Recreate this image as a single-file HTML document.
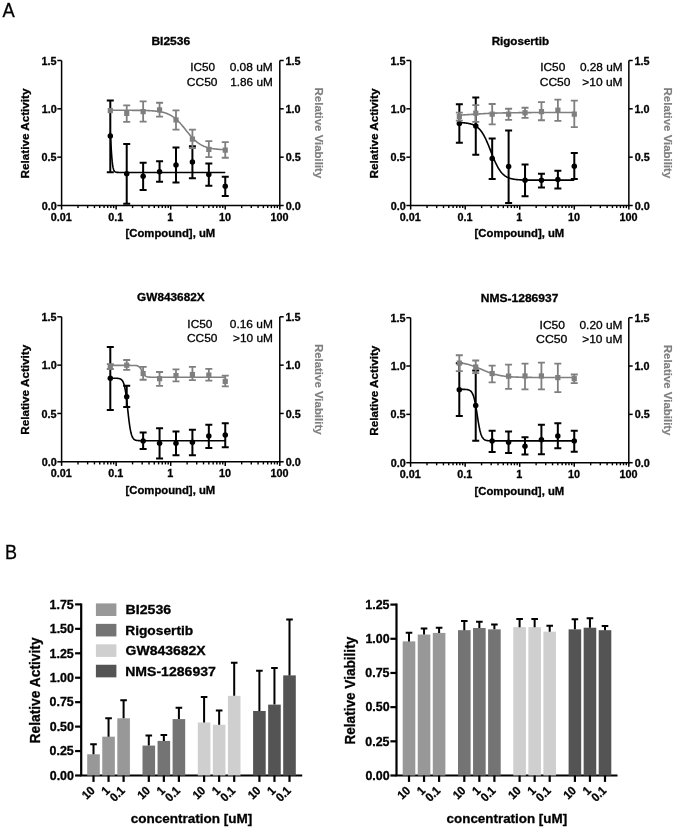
<!DOCTYPE html>
<html><head><meta charset="utf-8"><style>
html,body{margin:0;padding:0;background:#fff;}
body{width:675px;height:829px;overflow:hidden;font-family:"Liberation Sans", sans-serif;}
svg{display:block;filter:blur(0.35px);}
</style></head><body>
<svg width="675" height="829" viewBox="0 0 675 829" font-family='"Liberation Sans", sans-serif' fill="#000"><style>text{stroke:#000;stroke-width:0.3px;}</style><text transform="translate(151.44,44.71) scale(1.1053,1)" font-size="10.845" font-weight="bold">BI2536</text><text transform="translate(190.16,71.34) scale(1.0674,1)" font-size="11.025">IC50</text><text transform="translate(186.85,85.94) scale(1.0609,1)" font-size="11.307">CC50</text><text transform="translate(229.67,71.34) scale(1.0838,1)" font-size="11.025">0.08 uM</text><text transform="translate(230.27,85.94) scale(1.0418,1)" font-size="11.307">1.86 uM</text><text transform="translate(29.27,178.44) rotate(-90) scale(1.0208,1)" font-size="11.475" font-weight="bold">Relative Activity</text><text transform="translate(315,87.58) rotate(90) scale(0.9710,1)" font-size="11.796" font-weight="bold" fill="#7f7f7f" style="stroke:#7f7f7f;stroke-width:0.15px">Relative Viability</text><text transform="translate(125.53,237.35) scale(1.0648,1)" font-size="10.617" font-weight="bold">[Compound], uM</text><text transform="translate(41.65,209.56) scale(1.0300,1)" font-size="10.500" font-weight="bold">0.0</text><text transform="translate(285.82,209.56) scale(1.0300,1)" font-size="10.500" font-weight="bold">0.0</text><text transform="translate(41.51,161.22) scale(1.0300,1)" font-size="10.500" font-weight="bold">0.5</text><text transform="translate(285.82,161.22) scale(1.0300,1)" font-size="10.500" font-weight="bold">0.5</text><text transform="translate(41.65,112.89) scale(1.0300,1)" font-size="10.500" font-weight="bold">1.0</text><text transform="translate(285.57,112.89) scale(1.0300,1)" font-size="10.500" font-weight="bold">1.0</text><text transform="translate(41.51,64.5) scale(1.0300,1)" font-size="10.500" font-weight="bold">1.5</text><text transform="translate(285.57,64.5) scale(1.0300,1)" font-size="10.500" font-weight="bold">1.5</text><text transform="translate(50.81,220.86) scale(1.0300,1)" font-size="10.500" font-weight="bold">0.01</text><text transform="translate(108.37,220.86) scale(1.0300,1)" font-size="10.500" font-weight="bold">0.1</text><text transform="translate(167.31,220.86) scale(1.0300,1)" font-size="10.500" font-weight="bold">1</text><text transform="translate(218.93,220.86) scale(1.0300,1)" font-size="10.500" font-weight="bold">10</text><text transform="translate(270.46,220.86) scale(1.0300,1)" font-size="10.500" font-weight="bold">100</text><g transform="translate(0,0)"><g stroke="#000" stroke-width="1.5" fill="none"><path d="M61.6 60.5V205.5H279.8V60.5"/><path d="M57.3 205.5H61.6"/><path d="M279.8 205.5H283.7"/><path d="M57.3 157.16H61.6"/><path d="M279.8 157.16H283.7"/><path d="M57.3 108.83H61.6"/><path d="M279.8 108.83H283.7"/><path d="M57.3 60.5H61.6"/><path d="M279.8 60.5H283.7"/><path d="M61.6 205.5V209.6"/><path d="M78.02 205.5V208.1" stroke-width="1.4"/><path d="M87.63 205.5V208.1" stroke-width="1.4"/><path d="M94.44 205.5V208.1" stroke-width="1.4"/><path d="M99.73 205.5V208.1" stroke-width="1.4"/><path d="M104.05 205.5V208.1" stroke-width="1.4"/><path d="M107.7 205.5V208.1" stroke-width="1.4"/><path d="M110.86 205.5V208.1" stroke-width="1.4"/><path d="M113.65 205.5V208.1" stroke-width="1.4"/><path d="M116.15 205.5V209.6"/><path d="M132.57 205.5V208.1" stroke-width="1.4"/><path d="M142.18 205.5V208.1" stroke-width="1.4"/><path d="M148.99 205.5V208.1" stroke-width="1.4"/><path d="M154.28 205.5V208.1" stroke-width="1.4"/><path d="M158.6 205.5V208.1" stroke-width="1.4"/><path d="M162.25 205.5V208.1" stroke-width="1.4"/><path d="M165.41 205.5V208.1" stroke-width="1.4"/><path d="M168.2 205.5V208.1" stroke-width="1.4"/><path d="M170.7 205.5V209.6"/><path d="M187.12 205.5V208.1" stroke-width="1.4"/><path d="M196.73 205.5V208.1" stroke-width="1.4"/><path d="M203.54 205.5V208.1" stroke-width="1.4"/><path d="M208.83 205.5V208.1" stroke-width="1.4"/><path d="M213.15 205.5V208.1" stroke-width="1.4"/><path d="M216.8 205.5V208.1" stroke-width="1.4"/><path d="M219.96 205.5V208.1" stroke-width="1.4"/><path d="M222.75 205.5V208.1" stroke-width="1.4"/><path d="M225.25 205.5V209.6"/><path d="M241.67 205.5V208.1" stroke-width="1.4"/><path d="M251.28 205.5V208.1" stroke-width="1.4"/><path d="M258.09 205.5V208.1" stroke-width="1.4"/><path d="M263.38 205.5V208.1" stroke-width="1.4"/><path d="M267.7 205.5V208.1" stroke-width="1.4"/><path d="M271.35 205.5V208.1" stroke-width="1.4"/><path d="M274.51 205.5V208.1" stroke-width="1.4"/><path d="M277.3 205.5V208.1" stroke-width="1.4"/><path d="M279.8 205.5V209.6"/></g><path d="M110.3 132.43 L110.68 139.29 L111.07 146.07 L111.45 152.25 L111.83 157.5 L112.22 161.69 L112.6 164.87 L112.98 167.19 L113.37 168.85 L113.75 170 L114.13 170.79 L114.52 171.33 L114.9 171.69 L115.28 171.94 L115.67 172.11 L116.05 172.22 L116.43 172.29 L116.82 172.34 L117.2 172.37 L117.58 172.39 L117.96 172.41 L118.35 172.42 L118.73 172.43 L119.11 172.43 L119.5 172.43 L119.88 172.43 L120.26 172.44 L120.65 172.44 L121.03 172.44 L121.41 172.44 L121.8 172.44 L122.18 172.44 L122.56 172.44 L122.95 172.44 L123.33 172.44 L123.71 172.44 L124.1 172.44 L124.48 172.44 L124.86 172.44 L125.24 172.44 L125.63 172.44 L126.01 172.44 L126.39 172.44 L126.78 172.44 L127.16 172.44 L127.54 172.44 L127.93 172.44 L128.31 172.44 L128.69 172.44 L129.08 172.44 L129.46 172.44 L129.84 172.44 L130.23 172.44 L130.61 172.44 L130.99 172.44 L131.38 172.44 L131.76 172.44 L132.14 172.44 L132.53 172.44 L132.91 172.44 L133.29 172.44 L133.67 172.44 L134.06 172.44 L134.44 172.44 L134.82 172.44 L135.21 172.44 L135.59 172.44 L135.97 172.44 L136.36 172.44 L136.74 172.44 L137.12 172.44 L137.51 172.44 L137.89 172.44 L138.27 172.44 L138.66 172.44 L139.04 172.44 L139.42 172.44 L139.81 172.44 L140.19 172.44 L140.57 172.44 L140.95 172.44 L141.34 172.44 L141.72 172.44 L142.1 172.44 L142.49 172.44 L142.87 172.44 L143.25 172.44 L143.64 172.44 L144.02 172.44 L144.4 172.44 L144.79 172.44 L145.17 172.44 L145.55 172.44 L145.94 172.44 L146.32 172.44 L146.7 172.44 L147.09 172.44 L147.47 172.44 L147.85 172.44 L148.23 172.44 L148.62 172.44 L149 172.44 L149.38 172.44 L149.77 172.44 L150.15 172.44 L150.53 172.44 L150.92 172.44 L151.3 172.44 L151.68 172.44 L152.07 172.44 L152.45 172.44 L152.83 172.44 L153.22 172.44 L153.6 172.44 L153.98 172.44 L154.37 172.44 L154.75 172.44 L155.13 172.44 L155.51 172.44 L155.9 172.44 L156.28 172.44 L156.66 172.44 L157.05 172.44 L157.43 172.44 L157.81 172.44 L158.2 172.44 L158.58 172.44 L158.96 172.44 L159.35 172.44 L159.73 172.44 L160.11 172.44 L160.5 172.44 L160.88 172.44 L161.26 172.44 L161.65 172.44 L162.03 172.44 L162.41 172.44 L162.79 172.44 L163.18 172.44 L163.56 172.44 L163.94 172.44 L164.33 172.44 L164.71 172.44 L165.09 172.44 L165.48 172.44 L165.86 172.44 L166.24 172.44 L166.63 172.44 L167.01 172.44 L167.39 172.44 L167.78 172.44 L168.16 172.44 L168.54 172.44 L168.93 172.44 L169.31 172.44 L169.69 172.44 L170.07 172.44 L170.46 172.44 L170.84 172.44 L171.22 172.44 L171.61 172.44 L171.99 172.44 L172.37 172.44 L172.76 172.44 L173.14 172.44 L173.52 172.44 L173.91 172.44 L174.29 172.44 L174.67 172.44 L175.06 172.44 L175.44 172.44 L175.82 172.44 L176.21 172.44 L176.59 172.44 L176.97 172.44 L177.35 172.44 L177.74 172.44 L178.12 172.44 L178.5 172.44 L178.89 172.44 L179.27 172.44 L179.65 172.44 L180.04 172.44 L180.42 172.44 L180.8 172.44 L181.19 172.44 L181.57 172.44 L181.95 172.44 L182.34 172.44 L182.72 172.44 L183.1 172.44 L183.49 172.44 L183.87 172.44 L184.25 172.44 L184.63 172.44 L185.02 172.44 L185.4 172.44 L185.78 172.44 L186.17 172.44 L186.55 172.44 L186.93 172.44 L187.32 172.44 L187.7 172.44 L188.08 172.44 L188.47 172.44 L188.85 172.44 L189.23 172.44 L189.62 172.44 L190 172.44 L190.38 172.44 L190.77 172.44 L191.15 172.44 L191.53 172.44 L191.91 172.44 L192.3 172.44 L192.68 172.44 L193.06 172.44 L193.45 172.44 L193.83 172.44 L194.21 172.44 L194.6 172.44 L194.98 172.44 L195.36 172.44 L195.75 172.44 L196.13 172.44 L196.51 172.44 L196.9 172.44 L197.28 172.44 L197.66 172.44 L198.05 172.44 L198.43 172.44 L198.81 172.44 L199.2 172.44 L199.58 172.44 L199.96 172.44 L200.34 172.44 L200.73 172.44 L201.11 172.44 L201.49 172.44 L201.88 172.44 L202.26 172.44 L202.64 172.44 L203.03 172.44 L203.41 172.44 L203.79 172.44 L204.18 172.44 L204.56 172.44 L204.94 172.44 L205.33 172.44 L205.71 172.44 L206.09 172.44 L206.48 172.44 L206.86 172.44 L207.24 172.44 L207.62 172.44 L208.01 172.44 L208.39 172.44 L208.77 172.44 L209.16 172.44 L209.54 172.44 L209.92 172.44 L210.31 172.44 L210.69 172.44 L211.07 172.44 L211.46 172.44 L211.84 172.44 L212.22 172.44 L212.61 172.44 L212.99 172.44 L213.37 172.44 L213.76 172.44 L214.14 172.44 L214.52 172.44 L214.9 172.44 L215.29 172.44 L215.67 172.44 L216.05 172.44 L216.44 172.44 L216.82 172.44 L217.2 172.44 L217.59 172.44 L217.97 172.44 L218.35 172.44 L218.74 172.44 L219.12 172.44 L219.5 172.44 L219.89 172.44 L220.27 172.44 L220.65 172.44 L221.04 172.44 L221.42 172.44 L221.8 172.44 L222.18 172.44 L222.57 172.44 L222.95 172.44 L223.33 172.44 L223.72 172.44 L224.1 172.44 L224.48 172.44 L224.87 172.44 L225.25 172.44" fill="none" stroke="#000" stroke-width="1.6"/><path d="M110.3 100.61V172.25M106.8 100.61H113.8M106.8 172.25H113.8" stroke="#000" stroke-width="2.0" fill="none"/><circle cx="110.3" cy="135.9" r="2.75" fill="#000"/><path d="M126.72 143.92V203.86M123.22 143.92H130.22M123.22 203.86H130.22" stroke="#000" stroke-width="2.0" fill="none"/><circle cx="126.72" cy="173.7" r="2.75" fill="#000"/><path d="M143.14 162.68V190.03M139.64 162.68H146.64M139.64 190.03H146.64" stroke="#000" stroke-width="2.0" fill="none"/><circle cx="143.14" cy="176.31" r="2.75" fill="#000"/><path d="M159.57 161.23V181.72M156.07 161.23H163.07M156.07 181.72H163.07" stroke="#000" stroke-width="2.0" fill="none"/><circle cx="159.57" cy="171.67" r="2.75" fill="#000"/><path d="M175.99 147.5V182.49M172.49 147.5H179.49M172.49 182.49H179.49" stroke="#000" stroke-width="2.0" fill="none"/><circle cx="175.99" cy="165.09" r="2.75" fill="#000"/><path d="M192.41 146.24V178.14M188.91 146.24H195.91M188.91 178.14H195.91" stroke="#000" stroke-width="2.0" fill="none"/><circle cx="192.41" cy="162.1" r="2.75" fill="#000"/><path d="M208.83 163.55V185.68M205.33 163.55H212.33M205.33 185.68H212.33" stroke="#000" stroke-width="2.0" fill="none"/><circle cx="208.83" cy="174.47" r="2.75" fill="#000"/><path d="M225.25 176.69V196.12M221.75 176.69H228.75M221.75 196.12H228.75" stroke="#000" stroke-width="2.0" fill="none"/><circle cx="225.25" cy="186.17" r="2.75" fill="#000"/><path d="M110.3 110.28 L111.07 110.28 L111.83 110.28 L112.6 110.28 L113.37 110.28 L114.13 110.28 L114.9 110.28 L115.67 110.29 L116.43 110.29 L117.2 110.29 L117.96 110.29 L118.73 110.29 L119.5 110.29 L120.26 110.29 L121.03 110.29 L121.8 110.29 L122.56 110.29 L123.33 110.29 L124.1 110.3 L124.86 110.3 L125.63 110.3 L126.39 110.3 L127.16 110.3 L127.93 110.31 L128.69 110.31 L129.46 110.31 L130.23 110.31 L130.99 110.32 L131.76 110.32 L132.53 110.33 L133.29 110.33 L134.06 110.34 L134.82 110.34 L135.59 110.35 L136.36 110.35 L137.12 110.36 L137.89 110.37 L138.66 110.38 L139.42 110.39 L140.19 110.4 L140.95 110.41 L141.72 110.43 L142.49 110.44 L143.25 110.46 L144.02 110.48 L144.79 110.5 L145.55 110.52 L146.32 110.54 L147.09 110.57 L147.85 110.6 L148.62 110.63 L149.38 110.66 L150.15 110.7 L150.92 110.75 L151.68 110.79 L152.45 110.84 L153.22 110.9 L153.98 110.96 L154.75 111.03 L155.51 111.11 L156.28 111.19 L157.05 111.28 L157.81 111.38 L158.58 111.49 L159.35 111.61 L160.11 111.74 L160.88 111.88 L161.65 112.03 L162.41 112.2 L163.18 112.39 L163.94 112.59 L164.71 112.81 L165.48 113.05 L166.24 113.31 L167.01 113.6 L167.78 113.91 L168.54 114.24 L169.31 114.6 L170.07 114.98 L170.84 115.4 L171.61 115.85 L172.37 116.33 L173.14 116.85 L173.91 117.4 L174.67 117.98 L175.44 118.6 L176.21 119.26 L176.97 119.95 L177.74 120.67 L178.5 121.44 L179.27 122.23 L180.04 123.05 L180.8 123.91 L181.57 124.79 L182.34 125.69 L183.1 126.62 L183.87 127.56 L184.63 128.51 L185.4 129.46 L186.17 130.43 L186.93 131.39 L187.7 132.34 L188.47 133.28 L189.23 134.21 L190 135.12 L190.77 136.01 L191.53 136.87 L192.3 137.71 L193.06 138.51 L193.83 139.28 L194.6 140.02 L195.36 140.72 L196.13 141.39 L196.9 142.02 L197.66 142.62 L198.43 143.18 L199.2 143.7 L199.96 144.19 L200.73 144.65 L201.49 145.08 L202.26 145.48 L203.03 145.85 L203.79 146.19 L204.56 146.5 L205.33 146.79 L206.09 147.06 L206.86 147.31 L207.62 147.53 L208.39 147.74 L209.16 147.93 L209.92 148.11 L210.69 148.27 L211.46 148.41 L212.22 148.55 L212.99 148.67 L213.76 148.78 L214.52 148.88 L215.29 148.98 L216.05 149.06 L216.82 149.14 L217.59 149.21 L218.35 149.27 L219.12 149.33 L219.89 149.39 L220.65 149.43 L221.42 149.48 L222.18 149.52 L222.95 149.55 L223.72 149.59 L224.48 149.62 L225.25 149.64" fill="none" stroke="#7f7f7f" stroke-width="1.6"/><rect x="107.7" y="107.97" width="5.2" height="5.2" fill="#7f7f7f"/><path d="M126.72 105.45V121.88M123.22 105.45H130.22M123.22 121.88H130.22" stroke="#7f7f7f" stroke-width="1.8" fill="none"/><rect x="124.12" y="110.77" width="5.2" height="5.2" fill="#7f7f7f"/><path d="M143.14 101.39V121.59M139.64 101.39H146.64M139.64 121.59H146.64" stroke="#7f7f7f" stroke-width="1.8" fill="none"/><rect x="140.54" y="109.03" width="5.2" height="5.2" fill="#7f7f7f"/><path d="M159.57 102.74V116.56M156.07 102.74H163.07M156.07 116.56H163.07" stroke="#7f7f7f" stroke-width="1.8" fill="none"/><rect x="156.97" y="107.29" width="5.2" height="5.2" fill="#7f7f7f"/><path d="M175.99 110.38V129.61M172.49 110.38H179.49M172.49 129.61H179.49" stroke="#7f7f7f" stroke-width="1.8" fill="none"/><rect x="173.39" y="117.35" width="5.2" height="5.2" fill="#7f7f7f"/><path d="M192.41 129.71V147.98M188.91 129.71H195.91M188.91 147.98H195.91" stroke="#7f7f7f" stroke-width="1.8" fill="none"/><rect x="189.81" y="136.49" width="5.2" height="5.2" fill="#7f7f7f"/><path d="M208.83 141.21V157.16M205.33 141.21H212.33M205.33 157.16H212.33" stroke="#7f7f7f" stroke-width="1.8" fill="none"/><rect x="206.23" y="146.83" width="5.2" height="5.2" fill="#7f7f7f"/><path d="M225.25 142.08V157.75M221.75 142.08H228.75M221.75 157.75H228.75" stroke="#7f7f7f" stroke-width="1.8" fill="none"/><rect x="222.65" y="147.51" width="5.2" height="5.2" fill="#7f7f7f"/></g><text transform="translate(491.67,45.06) scale(1.0784,1)" font-size="10.773" font-weight="bold">Rigosertib</text><text transform="translate(540.25,71.34) scale(1.0766,1)" font-size="11.025">IC50</text><text transform="translate(539.75,85.94) scale(1.0645,1)" font-size="11.307">CC50</text><text transform="translate(579.88,71.34) scale(1.0734,1)" font-size="11.025">0.28 uM</text><text transform="translate(582.25,85.94) scale(1.0623,1)" font-size="11.307">&gt;10 uM</text><text transform="translate(378.32,178.44) rotate(-90) scale(1.0208,1)" font-size="11.475" font-weight="bold">Relative Activity</text><text transform="translate(664.05,87.58) rotate(90) scale(0.9710,1)" font-size="11.796" font-weight="bold" fill="#7f7f7f" style="stroke:#7f7f7f;stroke-width:0.15px">Relative Viability</text><text transform="translate(474.58,237.35) scale(1.0648,1)" font-size="10.617" font-weight="bold">[Compound], uM</text><text transform="translate(390.7,209.56) scale(1.0300,1)" font-size="10.500" font-weight="bold">0.0</text><text transform="translate(634.87,209.56) scale(1.0300,1)" font-size="10.500" font-weight="bold">0.0</text><text transform="translate(390.56,161.22) scale(1.0300,1)" font-size="10.500" font-weight="bold">0.5</text><text transform="translate(634.87,161.22) scale(1.0300,1)" font-size="10.500" font-weight="bold">0.5</text><text transform="translate(390.7,112.89) scale(1.0300,1)" font-size="10.500" font-weight="bold">1.0</text><text transform="translate(634.62,112.89) scale(1.0300,1)" font-size="10.500" font-weight="bold">1.0</text><text transform="translate(390.56,64.5) scale(1.0300,1)" font-size="10.500" font-weight="bold">1.5</text><text transform="translate(634.62,64.5) scale(1.0300,1)" font-size="10.500" font-weight="bold">1.5</text><text transform="translate(399.86,220.86) scale(1.0300,1)" font-size="10.500" font-weight="bold">0.01</text><text transform="translate(457.42,220.86) scale(1.0300,1)" font-size="10.500" font-weight="bold">0.1</text><text transform="translate(516.36,220.86) scale(1.0300,1)" font-size="10.500" font-weight="bold">1</text><text transform="translate(567.98,220.86) scale(1.0300,1)" font-size="10.500" font-weight="bold">10</text><text transform="translate(619.51,220.86) scale(1.0300,1)" font-size="10.500" font-weight="bold">100</text><g transform="translate(349.05,0)"><g stroke="#000" stroke-width="1.5" fill="none"><path d="M61.6 60.5V205.5H279.8V60.5"/><path d="M57.3 205.5H61.6"/><path d="M279.8 205.5H283.7"/><path d="M57.3 157.16H61.6"/><path d="M279.8 157.16H283.7"/><path d="M57.3 108.83H61.6"/><path d="M279.8 108.83H283.7"/><path d="M57.3 60.5H61.6"/><path d="M279.8 60.5H283.7"/><path d="M61.6 205.5V209.6"/><path d="M78.02 205.5V208.1" stroke-width="1.4"/><path d="M87.63 205.5V208.1" stroke-width="1.4"/><path d="M94.44 205.5V208.1" stroke-width="1.4"/><path d="M99.73 205.5V208.1" stroke-width="1.4"/><path d="M104.05 205.5V208.1" stroke-width="1.4"/><path d="M107.7 205.5V208.1" stroke-width="1.4"/><path d="M110.86 205.5V208.1" stroke-width="1.4"/><path d="M113.65 205.5V208.1" stroke-width="1.4"/><path d="M116.15 205.5V209.6"/><path d="M132.57 205.5V208.1" stroke-width="1.4"/><path d="M142.18 205.5V208.1" stroke-width="1.4"/><path d="M148.99 205.5V208.1" stroke-width="1.4"/><path d="M154.28 205.5V208.1" stroke-width="1.4"/><path d="M158.6 205.5V208.1" stroke-width="1.4"/><path d="M162.25 205.5V208.1" stroke-width="1.4"/><path d="M165.41 205.5V208.1" stroke-width="1.4"/><path d="M168.2 205.5V208.1" stroke-width="1.4"/><path d="M170.7 205.5V209.6"/><path d="M187.12 205.5V208.1" stroke-width="1.4"/><path d="M196.73 205.5V208.1" stroke-width="1.4"/><path d="M203.54 205.5V208.1" stroke-width="1.4"/><path d="M208.83 205.5V208.1" stroke-width="1.4"/><path d="M213.15 205.5V208.1" stroke-width="1.4"/><path d="M216.8 205.5V208.1" stroke-width="1.4"/><path d="M219.96 205.5V208.1" stroke-width="1.4"/><path d="M222.75 205.5V208.1" stroke-width="1.4"/><path d="M225.25 205.5V209.6"/><path d="M241.67 205.5V208.1" stroke-width="1.4"/><path d="M251.28 205.5V208.1" stroke-width="1.4"/><path d="M258.09 205.5V208.1" stroke-width="1.4"/><path d="M263.38 205.5V208.1" stroke-width="1.4"/><path d="M267.7 205.5V208.1" stroke-width="1.4"/><path d="M271.35 205.5V208.1" stroke-width="1.4"/><path d="M274.51 205.5V208.1" stroke-width="1.4"/><path d="M277.3 205.5V208.1" stroke-width="1.4"/><path d="M279.8 205.5V209.6"/></g><path d="M110.3 122.58 L110.68 122.6 L111.07 122.61 L111.45 122.63 L111.83 122.65 L112.22 122.67 L112.6 122.69 L112.98 122.71 L113.37 122.74 L113.75 122.76 L114.13 122.79 L114.52 122.82 L114.9 122.85 L115.28 122.89 L115.67 122.92 L116.05 122.96 L116.43 123 L116.82 123.05 L117.2 123.09 L117.58 123.15 L117.96 123.2 L118.35 123.26 L118.73 123.32 L119.11 123.39 L119.5 123.46 L119.88 123.53 L120.26 123.61 L120.65 123.7 L121.03 123.79 L121.41 123.89 L121.8 123.99 L122.18 124.1 L122.56 124.22 L122.95 124.34 L123.33 124.48 L123.71 124.62 L124.1 124.77 L124.48 124.94 L124.86 125.11 L125.24 125.29 L125.63 125.49 L126.01 125.69 L126.39 125.91 L126.78 126.14 L127.16 126.39 L127.54 126.65 L127.93 126.93 L128.31 127.23 L128.69 127.54 L129.08 127.87 L129.46 128.21 L129.84 128.58 L130.23 128.97 L130.61 129.38 L130.99 129.81 L131.38 130.26 L131.76 130.73 L132.14 131.23 L132.53 131.75 L132.91 132.3 L133.29 132.87 L133.67 133.47 L134.06 134.09 L134.44 134.74 L134.82 135.41 L135.21 136.11 L135.59 136.83 L135.97 137.58 L136.36 138.36 L136.74 139.15 L137.12 139.97 L137.51 140.82 L137.89 141.68 L138.27 142.56 L138.66 143.46 L139.04 144.38 L139.42 145.32 L139.81 146.26 L140.19 147.22 L140.57 148.19 L140.95 149.16 L141.34 150.14 L141.72 151.12 L142.1 152.1 L142.49 153.08 L142.87 154.06 L143.25 155.03 L143.64 155.99 L144.02 156.94 L144.4 157.87 L144.79 158.8 L145.17 159.7 L145.55 160.59 L145.94 161.46 L146.32 162.31 L146.7 163.14 L147.09 163.94 L147.47 164.72 L147.85 165.48 L148.23 166.21 L148.62 166.92 L149 167.6 L149.38 168.26 L149.77 168.89 L150.15 169.49 L150.53 170.07 L150.92 170.62 L151.3 171.15 L151.68 171.66 L152.07 172.14 L152.45 172.6 L152.83 173.03 L153.22 173.45 L153.6 173.84 L153.98 174.21 L154.37 174.57 L154.75 174.9 L155.13 175.22 L155.51 175.52 L155.9 175.8 L156.28 176.07 L156.66 176.32 L157.05 176.56 L157.43 176.78 L157.81 176.99 L158.2 177.19 L158.58 177.37 L158.96 177.55 L159.35 177.71 L159.73 177.87 L160.11 178.02 L160.5 178.15 L160.88 178.28 L161.26 178.4 L161.65 178.51 L162.03 178.62 L162.41 178.72 L162.79 178.81 L163.18 178.9 L163.56 178.98 L163.94 179.06 L164.33 179.13 L164.71 179.2 L165.09 179.26 L165.48 179.32 L165.86 179.37 L166.24 179.43 L166.63 179.47 L167.01 179.52 L167.39 179.56 L167.78 179.6 L168.16 179.64 L168.54 179.67 L168.93 179.71 L169.31 179.74 L169.69 179.77 L170.07 179.79 L170.46 179.82 L170.84 179.84 L171.22 179.86 L171.61 179.88 L171.99 179.9 L172.37 179.92 L172.76 179.94 L173.14 179.95 L173.52 179.97 L173.91 179.98 L174.29 179.99 L174.67 180 L175.06 180.01 L175.44 180.02 L175.82 180.03 L176.21 180.04 L176.59 180.05 L176.97 180.06 L177.35 180.07 L177.74 180.07 L178.12 180.08 L178.5 180.09 L178.89 180.09 L179.27 180.1 L179.65 180.1 L180.04 180.11 L180.42 180.11 L180.8 180.12 L181.19 180.12 L181.57 180.12 L181.95 180.13 L182.34 180.13 L182.72 180.13 L183.1 180.13 L183.49 180.14 L183.87 180.14 L184.25 180.14 L184.63 180.14 L185.02 180.15 L185.4 180.15 L185.78 180.15 L186.17 180.15 L186.55 180.15 L186.93 180.15 L187.32 180.15 L187.7 180.16 L188.08 180.16 L188.47 180.16 L188.85 180.16 L189.23 180.16 L189.62 180.16 L190 180.16 L190.38 180.16 L190.77 180.16 L191.15 180.16 L191.53 180.16 L191.91 180.16 L192.3 180.17 L192.68 180.17 L193.06 180.17 L193.45 180.17 L193.83 180.17 L194.21 180.17 L194.6 180.17 L194.98 180.17 L195.36 180.17 L195.75 180.17 L196.13 180.17 L196.51 180.17 L196.9 180.17 L197.28 180.17 L197.66 180.17 L198.05 180.17 L198.43 180.17 L198.81 180.17 L199.2 180.17 L199.58 180.17 L199.96 180.17 L200.34 180.17 L200.73 180.17 L201.11 180.17 L201.49 180.17 L201.88 180.17 L202.26 180.17 L202.64 180.17 L203.03 180.17 L203.41 180.17 L203.79 180.17 L204.18 180.17 L204.56 180.17 L204.94 180.17 L205.33 180.17 L205.71 180.17 L206.09 180.17 L206.48 180.17 L206.86 180.17 L207.24 180.17 L207.62 180.17 L208.01 180.17 L208.39 180.17 L208.77 180.17 L209.16 180.17 L209.54 180.17 L209.92 180.17 L210.31 180.17 L210.69 180.17 L211.07 180.17 L211.46 180.17 L211.84 180.17 L212.22 180.17 L212.61 180.17 L212.99 180.17 L213.37 180.17 L213.76 180.17 L214.14 180.17 L214.52 180.17 L214.9 180.17 L215.29 180.17 L215.67 180.17 L216.05 180.17 L216.44 180.17 L216.82 180.17 L217.2 180.17 L217.59 180.17 L217.97 180.17 L218.35 180.17 L218.74 180.17 L219.12 180.17 L219.5 180.17 L219.89 180.17 L220.27 180.17 L220.65 180.17 L221.04 180.17 L221.42 180.17 L221.8 180.17 L222.18 180.17 L222.57 180.17 L222.95 180.17 L223.33 180.17 L223.72 180.17 L224.1 180.17 L224.48 180.17 L224.87 180.17 L225.25 180.17" fill="none" stroke="#000" stroke-width="1.6"/><path d="M110.3 104.29V142.76M106.8 104.29H113.8M106.8 142.76H113.8" stroke="#000" stroke-width="2.0" fill="none"/><circle cx="110.3" cy="123.62" r="2.75" fill="#000"/><path d="M126.72 97.62V154.84M123.22 97.62H130.22M123.22 154.84H130.22" stroke="#000" stroke-width="2.0" fill="none"/><circle cx="126.72" cy="126.04" r="2.75" fill="#000"/><path d="M143.14 138.41V179.01M139.64 138.41H146.64M139.64 179.01H146.64" stroke="#000" stroke-width="2.0" fill="none"/><circle cx="143.14" cy="158.62" r="2.75" fill="#000"/><path d="M159.57 130.39V202.99M156.07 130.39H163.07M156.07 202.99H163.07" stroke="#000" stroke-width="2.0" fill="none"/><circle cx="159.57" cy="166.54" r="2.75" fill="#000"/><path d="M175.99 164.51V196.22M172.49 164.51H179.49M172.49 196.22H179.49" stroke="#000" stroke-width="2.0" fill="none"/><circle cx="175.99" cy="180.27" r="2.75" fill="#000"/><path d="M192.41 173.79V187.52M188.91 173.79H195.91M188.91 187.52H195.91" stroke="#000" stroke-width="2.0" fill="none"/><circle cx="192.41" cy="180.27" r="2.75" fill="#000"/><path d="M208.83 170.7V188.58M205.33 170.7H212.33M205.33 188.58H212.33" stroke="#000" stroke-width="2.0" fill="none"/><circle cx="208.83" cy="179.4" r="2.75" fill="#000"/><path d="M225.25 153.1V179.01M221.75 153.1H228.75M221.75 179.01H228.75" stroke="#000" stroke-width="2.0" fill="none"/><circle cx="225.25" cy="166.35" r="2.75" fill="#000"/><path d="M110.3 115.22 L111.07 115.18 L111.83 115.12 L112.6 115.07 L113.37 115.02 L114.13 114.97 L114.9 114.92 L115.67 114.87 L116.43 114.81 L117.2 114.76 L117.96 114.71 L118.73 114.66 L119.5 114.6 L120.26 114.55 L121.03 114.5 L121.8 114.45 L122.56 114.39 L123.33 114.34 L124.1 114.29 L124.86 114.24 L125.63 114.19 L126.39 114.14 L127.16 114.09 L127.93 114.04 L128.69 113.99 L129.46 113.95 L130.23 113.9 L130.99 113.86 L131.76 113.81 L132.53 113.77 L133.29 113.72 L134.06 113.68 L134.82 113.64 L135.59 113.6 L136.36 113.56 L137.12 113.52 L137.89 113.48 L138.66 113.45 L139.42 113.41 L140.19 113.38 L140.95 113.35 L141.72 113.31 L142.49 113.28 L143.25 113.25 L144.02 113.22 L144.79 113.19 L145.55 113.16 L146.32 113.14 L147.09 113.11 L147.85 113.09 L148.62 113.06 L149.38 113.04 L150.15 113.02 L150.92 113 L151.68 112.98 L152.45 112.96 L153.22 112.94 L153.98 112.92 L154.75 112.9 L155.51 112.88 L156.28 112.87 L157.05 112.85 L157.81 112.83 L158.58 112.82 L159.35 112.81 L160.11 112.79 L160.88 112.78 L161.65 112.77 L162.41 112.76 L163.18 112.74 L163.94 112.73 L164.71 112.72 L165.48 112.71 L166.24 112.7 L167.01 112.7 L167.78 112.69 L168.54 112.68 L169.31 112.67 L170.07 112.66 L170.84 112.66 L171.61 112.65 L172.37 112.64 L173.14 112.64 L173.91 112.63 L174.67 112.62 L175.44 112.62 L176.21 112.61 L176.97 112.61 L177.74 112.6 L178.5 112.6 L179.27 112.59 L180.04 112.59 L180.8 112.59 L181.57 112.58 L182.34 112.58 L183.1 112.57 L183.87 112.57 L184.63 112.57 L185.4 112.57 L186.17 112.56 L186.93 112.56 L187.7 112.56 L188.47 112.55 L189.23 112.55 L190 112.55 L190.77 112.55 L191.53 112.55 L192.3 112.54 L193.06 112.54 L193.83 112.54 L194.6 112.54 L195.36 112.54 L196.13 112.53 L196.9 112.53 L197.66 112.53 L198.43 112.53 L199.2 112.53 L199.96 112.53 L200.73 112.53 L201.49 112.53 L202.26 112.52 L203.03 112.52 L203.79 112.52 L204.56 112.52 L205.33 112.52 L206.09 112.52 L206.86 112.52 L207.62 112.52 L208.39 112.52 L209.16 112.52 L209.92 112.52 L210.69 112.52 L211.46 112.52 L212.22 112.51 L212.99 112.51 L213.76 112.51 L214.52 112.51 L215.29 112.51 L216.05 112.51 L216.82 112.51 L217.59 112.51 L218.35 112.51 L219.12 112.51 L219.89 112.51 L220.65 112.51 L221.42 112.51 L222.18 112.51 L222.95 112.51 L223.72 112.51 L224.48 112.51 L225.25 112.51" fill="none" stroke="#7f7f7f" stroke-width="1.6"/><path d="M110.3 112.6V120.62M106.8 112.6H113.8M106.8 120.62H113.8" stroke="#7f7f7f" stroke-width="1.8" fill="none"/><rect x="107.7" y="113.96" width="5.2" height="5.2" fill="#7f7f7f"/><path d="M126.72 105.06V121.88M123.22 105.06H130.22M123.22 121.88H130.22" stroke="#7f7f7f" stroke-width="1.8" fill="none"/><rect x="124.12" y="110.58" width="5.2" height="5.2" fill="#7f7f7f"/><path d="M143.14 104V124.3M139.64 104H146.64M139.64 124.3H146.64" stroke="#7f7f7f" stroke-width="1.8" fill="none"/><rect x="140.54" y="111.55" width="5.2" height="5.2" fill="#7f7f7f"/><path d="M159.57 108.73V119.85M156.07 108.73H163.07M156.07 119.85H163.07" stroke="#7f7f7f" stroke-width="1.8" fill="none"/><rect x="156.97" y="111.55" width="5.2" height="5.2" fill="#7f7f7f"/><path d="M175.99 107.77V117.92M172.49 107.77H179.49M172.49 117.92H179.49" stroke="#7f7f7f" stroke-width="1.8" fill="none"/><rect x="173.39" y="110.1" width="5.2" height="5.2" fill="#7f7f7f"/><path d="M192.41 102.16V120.24M188.91 102.16H195.91M188.91 120.24H195.91" stroke="#7f7f7f" stroke-width="1.8" fill="none"/><rect x="189.81" y="109.03" width="5.2" height="5.2" fill="#7f7f7f"/><path d="M208.83 99.65V120.82M205.33 99.65H212.33M205.33 120.82H212.33" stroke="#7f7f7f" stroke-width="1.8" fill="none"/><rect x="206.23" y="107.58" width="5.2" height="5.2" fill="#7f7f7f"/><path d="M225.25 100.61V127.2M221.75 100.61H228.75M221.75 127.2H228.75" stroke="#7f7f7f" stroke-width="1.8" fill="none"/><rect x="222.65" y="111.55" width="5.2" height="5.2" fill="#7f7f7f"/></g><text transform="translate(137.08,301.01) scale(1.0898,1)" font-size="10.845" font-weight="bold">GW843682X</text><text transform="translate(187.35,327.64) scale(1.0766,1)" font-size="11.025">IC50</text><text transform="translate(186.95,342.24) scale(1.0573,1)" font-size="11.307">CC50</text><text transform="translate(229.77,327.64) scale(1.0838,1)" font-size="11.025">0.16 uM</text><text transform="translate(232.96,342.24) scale(1.0514,1)" font-size="11.307">&gt;10 uM</text><text transform="translate(29.27,434.74) rotate(-90) scale(1.0208,1)" font-size="11.475" font-weight="bold">Relative Activity</text><text transform="translate(315,343.88) rotate(90) scale(0.9710,1)" font-size="11.796" font-weight="bold" fill="#7f7f7f" style="stroke:#7f7f7f;stroke-width:0.15px">Relative Viability</text><text transform="translate(125.53,493.65) scale(1.0648,1)" font-size="10.617" font-weight="bold">[Compound], uM</text><text transform="translate(41.65,465.86) scale(1.0300,1)" font-size="10.500" font-weight="bold">0.0</text><text transform="translate(285.82,465.86) scale(1.0300,1)" font-size="10.500" font-weight="bold">0.0</text><text transform="translate(41.51,417.52) scale(1.0300,1)" font-size="10.500" font-weight="bold">0.5</text><text transform="translate(285.82,417.52) scale(1.0300,1)" font-size="10.500" font-weight="bold">0.5</text><text transform="translate(41.65,369.19) scale(1.0300,1)" font-size="10.500" font-weight="bold">1.0</text><text transform="translate(285.57,369.19) scale(1.0300,1)" font-size="10.500" font-weight="bold">1.0</text><text transform="translate(41.51,320.8) scale(1.0300,1)" font-size="10.500" font-weight="bold">1.5</text><text transform="translate(285.57,320.8) scale(1.0300,1)" font-size="10.500" font-weight="bold">1.5</text><text transform="translate(50.81,477.16) scale(1.0300,1)" font-size="10.500" font-weight="bold">0.01</text><text transform="translate(108.37,477.16) scale(1.0300,1)" font-size="10.500" font-weight="bold">0.1</text><text transform="translate(167.31,477.16) scale(1.0300,1)" font-size="10.500" font-weight="bold">1</text><text transform="translate(218.93,477.16) scale(1.0300,1)" font-size="10.500" font-weight="bold">10</text><text transform="translate(270.46,477.16) scale(1.0300,1)" font-size="10.500" font-weight="bold">100</text><g transform="translate(0,256.3)"><g stroke="#000" stroke-width="1.5" fill="none"><path d="M61.6 60.5V205.5H279.8V60.5"/><path d="M57.3 205.5H61.6"/><path d="M279.8 205.5H283.7"/><path d="M57.3 157.16H61.6"/><path d="M279.8 157.16H283.7"/><path d="M57.3 108.83H61.6"/><path d="M279.8 108.83H283.7"/><path d="M57.3 60.5H61.6"/><path d="M279.8 60.5H283.7"/><path d="M61.6 205.5V209.6"/><path d="M78.02 205.5V208.1" stroke-width="1.4"/><path d="M87.63 205.5V208.1" stroke-width="1.4"/><path d="M94.44 205.5V208.1" stroke-width="1.4"/><path d="M99.73 205.5V208.1" stroke-width="1.4"/><path d="M104.05 205.5V208.1" stroke-width="1.4"/><path d="M107.7 205.5V208.1" stroke-width="1.4"/><path d="M110.86 205.5V208.1" stroke-width="1.4"/><path d="M113.65 205.5V208.1" stroke-width="1.4"/><path d="M116.15 205.5V209.6"/><path d="M132.57 205.5V208.1" stroke-width="1.4"/><path d="M142.18 205.5V208.1" stroke-width="1.4"/><path d="M148.99 205.5V208.1" stroke-width="1.4"/><path d="M154.28 205.5V208.1" stroke-width="1.4"/><path d="M158.6 205.5V208.1" stroke-width="1.4"/><path d="M162.25 205.5V208.1" stroke-width="1.4"/><path d="M165.41 205.5V208.1" stroke-width="1.4"/><path d="M168.2 205.5V208.1" stroke-width="1.4"/><path d="M170.7 205.5V209.6"/><path d="M187.12 205.5V208.1" stroke-width="1.4"/><path d="M196.73 205.5V208.1" stroke-width="1.4"/><path d="M203.54 205.5V208.1" stroke-width="1.4"/><path d="M208.83 205.5V208.1" stroke-width="1.4"/><path d="M213.15 205.5V208.1" stroke-width="1.4"/><path d="M216.8 205.5V208.1" stroke-width="1.4"/><path d="M219.96 205.5V208.1" stroke-width="1.4"/><path d="M222.75 205.5V208.1" stroke-width="1.4"/><path d="M225.25 205.5V209.6"/><path d="M241.67 205.5V208.1" stroke-width="1.4"/><path d="M251.28 205.5V208.1" stroke-width="1.4"/><path d="M258.09 205.5V208.1" stroke-width="1.4"/><path d="M263.38 205.5V208.1" stroke-width="1.4"/><path d="M267.7 205.5V208.1" stroke-width="1.4"/><path d="M271.35 205.5V208.1" stroke-width="1.4"/><path d="M274.51 205.5V208.1" stroke-width="1.4"/><path d="M277.3 205.5V208.1" stroke-width="1.4"/><path d="M279.8 205.5V209.6"/></g><path d="M110.3 121.88 L110.68 121.88 L111.07 121.88 L111.45 121.88 L111.83 121.89 L112.22 121.89 L112.6 121.89 L112.98 121.89 L113.37 121.89 L113.75 121.9 L114.13 121.9 L114.52 121.91 L114.9 121.91 L115.28 121.92 L115.67 121.93 L116.05 121.94 L116.43 121.96 L116.82 121.98 L117.2 122 L117.58 122.04 L117.96 122.08 L118.35 122.12 L118.73 122.19 L119.11 122.26 L119.5 122.36 L119.88 122.48 L120.26 122.63 L120.65 122.82 L121.03 123.05 L121.41 123.35 L121.8 123.71 L122.18 124.16 L122.56 124.71 L122.95 125.39 L123.33 126.21 L123.71 127.22 L124.1 128.44 L124.48 129.89 L124.86 131.61 L125.24 133.62 L125.63 135.93 L126.01 138.55 L126.39 141.46 L126.78 144.62 L127.16 147.99 L127.54 151.48 L127.93 155.02 L128.31 158.51 L128.69 161.87 L129.08 165.02 L129.46 167.91 L129.84 170.52 L130.23 172.81 L130.61 174.8 L130.99 176.5 L131.38 177.94 L131.76 179.15 L132.14 180.14 L132.53 180.96 L132.91 181.63 L133.29 182.18 L133.67 182.62 L134.06 182.98 L134.44 183.27 L134.82 183.5 L135.21 183.68 L135.59 183.83 L135.97 183.95 L136.36 184.05 L136.74 184.12 L137.12 184.18 L137.51 184.23 L137.89 184.27 L138.27 184.3 L138.66 184.33 L139.04 184.35 L139.42 184.36 L139.81 184.38 L140.19 184.39 L140.57 184.39 L140.95 184.4 L141.34 184.41 L141.72 184.41 L142.1 184.41 L142.49 184.42 L142.87 184.42 L143.25 184.42 L143.64 184.42 L144.02 184.42 L144.4 184.42 L144.79 184.42 L145.17 184.42 L145.55 184.42 L145.94 184.42 L146.32 184.42 L146.7 184.43 L147.09 184.43 L147.47 184.43 L147.85 184.43 L148.23 184.43 L148.62 184.43 L149 184.43 L149.38 184.43 L149.77 184.43 L150.15 184.43 L150.53 184.43 L150.92 184.43 L151.3 184.43 L151.68 184.43 L152.07 184.43 L152.45 184.43 L152.83 184.43 L153.22 184.43 L153.6 184.43 L153.98 184.43 L154.37 184.43 L154.75 184.43 L155.13 184.43 L155.51 184.43 L155.9 184.43 L156.28 184.43 L156.66 184.43 L157.05 184.43 L157.43 184.43 L157.81 184.43 L158.2 184.43 L158.58 184.43 L158.96 184.43 L159.35 184.43 L159.73 184.43 L160.11 184.43 L160.5 184.43 L160.88 184.43 L161.26 184.43 L161.65 184.43 L162.03 184.43 L162.41 184.43 L162.79 184.43 L163.18 184.43 L163.56 184.43 L163.94 184.43 L164.33 184.43 L164.71 184.43 L165.09 184.43 L165.48 184.43 L165.86 184.43 L166.24 184.43 L166.63 184.43 L167.01 184.43 L167.39 184.43 L167.78 184.43 L168.16 184.43 L168.54 184.43 L168.93 184.43 L169.31 184.43 L169.69 184.43 L170.07 184.43 L170.46 184.43 L170.84 184.43 L171.22 184.43 L171.61 184.43 L171.99 184.43 L172.37 184.43 L172.76 184.43 L173.14 184.43 L173.52 184.43 L173.91 184.43 L174.29 184.43 L174.67 184.43 L175.06 184.43 L175.44 184.43 L175.82 184.43 L176.21 184.43 L176.59 184.43 L176.97 184.43 L177.35 184.43 L177.74 184.43 L178.12 184.43 L178.5 184.43 L178.89 184.43 L179.27 184.43 L179.65 184.43 L180.04 184.43 L180.42 184.43 L180.8 184.43 L181.19 184.43 L181.57 184.43 L181.95 184.43 L182.34 184.43 L182.72 184.43 L183.1 184.43 L183.49 184.43 L183.87 184.43 L184.25 184.43 L184.63 184.43 L185.02 184.43 L185.4 184.43 L185.78 184.43 L186.17 184.43 L186.55 184.43 L186.93 184.43 L187.32 184.43 L187.7 184.43 L188.08 184.43 L188.47 184.43 L188.85 184.43 L189.23 184.43 L189.62 184.43 L190 184.43 L190.38 184.43 L190.77 184.43 L191.15 184.43 L191.53 184.43 L191.91 184.43 L192.3 184.43 L192.68 184.43 L193.06 184.43 L193.45 184.43 L193.83 184.43 L194.21 184.43 L194.6 184.43 L194.98 184.43 L195.36 184.43 L195.75 184.43 L196.13 184.43 L196.51 184.43 L196.9 184.43 L197.28 184.43 L197.66 184.43 L198.05 184.43 L198.43 184.43 L198.81 184.43 L199.2 184.43 L199.58 184.43 L199.96 184.43 L200.34 184.43 L200.73 184.43 L201.11 184.43 L201.49 184.43 L201.88 184.43 L202.26 184.43 L202.64 184.43 L203.03 184.43 L203.41 184.43 L203.79 184.43 L204.18 184.43 L204.56 184.43 L204.94 184.43 L205.33 184.43 L205.71 184.43 L206.09 184.43 L206.48 184.43 L206.86 184.43 L207.24 184.43 L207.62 184.43 L208.01 184.43 L208.39 184.43 L208.77 184.43 L209.16 184.43 L209.54 184.43 L209.92 184.43 L210.31 184.43 L210.69 184.43 L211.07 184.43 L211.46 184.43 L211.84 184.43 L212.22 184.43 L212.61 184.43 L212.99 184.43 L213.37 184.43 L213.76 184.43 L214.14 184.43 L214.52 184.43 L214.9 184.43 L215.29 184.43 L215.67 184.43 L216.05 184.43 L216.44 184.43 L216.82 184.43 L217.2 184.43 L217.59 184.43 L217.97 184.43 L218.35 184.43 L218.74 184.43 L219.12 184.43 L219.5 184.43 L219.89 184.43 L220.27 184.43 L220.65 184.43 L221.04 184.43 L221.42 184.43 L221.8 184.43 L222.18 184.43 L222.57 184.43 L222.95 184.43 L223.33 184.43 L223.72 184.43 L224.1 184.43 L224.48 184.43 L224.87 184.43 L225.25 184.43" fill="none" stroke="#000" stroke-width="1.6"/><path d="M110.3 90.66V153.78M106.8 90.66H113.8M106.8 153.78H113.8" stroke="#000" stroke-width="2.0" fill="none"/><circle cx="110.3" cy="121.98" r="2.75" fill="#000"/><path d="M126.72 129.52V150.69M123.22 129.52H130.22M123.22 150.69H130.22" stroke="#000" stroke-width="2.0" fill="none"/><circle cx="126.72" cy="140.34" r="2.75" fill="#000"/><path d="M143.14 176.11V192.64M139.64 176.11H146.64M139.64 192.64H146.64" stroke="#000" stroke-width="2.0" fill="none"/><circle cx="143.14" cy="184.81" r="2.75" fill="#000"/><path d="M159.57 172.05V202.31M156.07 172.05H163.07M156.07 202.31H163.07" stroke="#000" stroke-width="2.0" fill="none"/><circle cx="159.57" cy="186.84" r="2.75" fill="#000"/><path d="M175.99 175.15V198.83M172.49 175.15H179.49M172.49 198.83H179.49" stroke="#000" stroke-width="2.0" fill="none"/><circle cx="175.99" cy="186.84" r="2.75" fill="#000"/><path d="M192.41 173.41V198.83M188.91 173.41H195.91M188.91 198.83H195.91" stroke="#000" stroke-width="2.0" fill="none"/><circle cx="192.41" cy="185.88" r="2.75" fill="#000"/><path d="M208.83 168.48V191.68M205.33 168.48H212.33M205.33 191.68H212.33" stroke="#000" stroke-width="2.0" fill="none"/><circle cx="208.83" cy="179.79" r="2.75" fill="#000"/><path d="M225.25 166.83V191M221.75 166.83H228.75M221.75 191H228.75" stroke="#000" stroke-width="2.0" fill="none"/><circle cx="225.25" cy="178.82" r="2.75" fill="#000"/><path d="M110.3 109.12 L111.07 109.12 L111.83 109.12 L112.6 109.12 L113.37 109.12 L114.13 109.12 L114.9 109.12 L115.67 109.12 L116.43 109.12 L117.2 109.12 L117.96 109.12 L118.73 109.12 L119.5 109.12 L120.26 109.12 L121.03 109.12 L121.8 109.12 L122.56 109.12 L123.33 109.12 L124.1 109.12 L124.86 109.12 L125.63 109.12 L126.39 109.12 L127.16 109.12 L127.93 109.12 L128.69 109.12 L129.46 109.12 L130.23 109.12 L130.99 109.13 L131.76 109.13 L132.53 109.14 L133.29 109.15 L134.06 109.17 L134.82 109.2 L135.59 109.26 L136.36 109.35 L137.12 109.5 L137.89 109.74 L138.66 110.12 L139.42 110.71 L140.19 111.56 L140.95 112.71 L141.72 114.12 L142.49 115.63 L143.25 117.07 L144.02 118.28 L144.79 119.19 L145.55 119.82 L146.32 120.24 L147.09 120.5 L147.85 120.66 L148.62 120.76 L149.38 120.82 L150.15 120.86 L150.92 120.88 L151.68 120.89 L152.45 120.9 L153.22 120.91 L153.98 120.91 L154.75 120.91 L155.51 120.91 L156.28 120.91 L157.05 120.91 L157.81 120.91 L158.58 120.91 L159.35 120.91 L160.11 120.91 L160.88 120.91 L161.65 120.91 L162.41 120.91 L163.18 120.91 L163.94 120.91 L164.71 120.91 L165.48 120.91 L166.24 120.91 L167.01 120.91 L167.78 120.91 L168.54 120.91 L169.31 120.91 L170.07 120.91 L170.84 120.91 L171.61 120.91 L172.37 120.91 L173.14 120.91 L173.91 120.91 L174.67 120.91 L175.44 120.91 L176.21 120.91 L176.97 120.91 L177.74 120.91 L178.5 120.91 L179.27 120.91 L180.04 120.91 L180.8 120.91 L181.57 120.91 L182.34 120.91 L183.1 120.91 L183.87 120.91 L184.63 120.91 L185.4 120.91 L186.17 120.91 L186.93 120.91 L187.7 120.91 L188.47 120.91 L189.23 120.91 L190 120.91 L190.77 120.91 L191.53 120.91 L192.3 120.91 L193.06 120.91 L193.83 120.91 L194.6 120.91 L195.36 120.91 L196.13 120.91 L196.9 120.91 L197.66 120.91 L198.43 120.91 L199.2 120.91 L199.96 120.91 L200.73 120.91 L201.49 120.91 L202.26 120.91 L203.03 120.91 L203.79 120.91 L204.56 120.91 L205.33 120.91 L206.09 120.91 L206.86 120.91 L207.62 120.91 L208.39 120.91 L209.16 120.91 L209.92 120.91 L210.69 120.91 L211.46 120.91 L212.22 120.91 L212.99 120.91 L213.76 120.91 L214.52 120.91 L215.29 120.91 L216.05 120.91 L216.82 120.91 L217.59 120.91 L218.35 120.91 L219.12 120.91 L219.89 120.91 L220.65 120.91 L221.42 120.91 L222.18 120.91 L222.95 120.91 L223.72 120.91 L224.48 120.91 L225.25 120.91" fill="none" stroke="#7f7f7f" stroke-width="1.6"/><path d="M110.3 107.86V112.7M106.8 107.86H113.8M106.8 112.7H113.8" stroke="#7f7f7f" stroke-width="1.8" fill="none"/><rect x="107.7" y="107.68" width="5.2" height="5.2" fill="#7f7f7f"/><path d="M126.72 103.71V113.66M123.22 103.71H130.22M123.22 113.66H130.22" stroke="#7f7f7f" stroke-width="1.8" fill="none"/><rect x="124.12" y="106.33" width="5.2" height="5.2" fill="#7f7f7f"/><path d="M143.14 110.67V123.43M139.64 110.67H146.64M139.64 123.43H146.64" stroke="#7f7f7f" stroke-width="1.8" fill="none"/><rect x="140.54" y="114.64" width="5.2" height="5.2" fill="#7f7f7f"/><path d="M159.57 115.69V129.52M156.07 115.69H163.07M156.07 129.52H163.07" stroke="#7f7f7f" stroke-width="1.8" fill="none"/><rect x="156.97" y="119.76" width="5.2" height="5.2" fill="#7f7f7f"/><path d="M175.99 112.99V125.07M172.49 112.99H179.49M172.49 125.07H179.49" stroke="#7f7f7f" stroke-width="1.8" fill="none"/><rect x="173.39" y="116.67" width="5.2" height="5.2" fill="#7f7f7f"/><path d="M192.41 110.67V123.81M188.91 110.67H195.91M188.91 123.81H195.91" stroke="#7f7f7f" stroke-width="1.8" fill="none"/><rect x="189.81" y="115.61" width="5.2" height="5.2" fill="#7f7f7f"/><path d="M208.83 112.6V124.39M205.33 112.6H212.33M205.33 124.39H212.33" stroke="#7f7f7f" stroke-width="1.8" fill="none"/><rect x="206.23" y="116.19" width="5.2" height="5.2" fill="#7f7f7f"/><path d="M225.25 119.27V130M221.75 119.27H228.75M221.75 130H228.75" stroke="#7f7f7f" stroke-width="1.8" fill="none"/><rect x="222.65" y="122.47" width="5.2" height="5.2" fill="#7f7f7f"/></g><text transform="translate(480.84,301.91) scale(1.1101,1)" font-size="10.845" font-weight="bold">NMS-1286937</text><text transform="translate(539.53,328.74) scale(1.0949,1)" font-size="11.025">IC50</text><text transform="translate(536.04,343.24) scale(1.0860,1)" font-size="11.307">CC50</text><text transform="translate(579.47,328.74) scale(1.0786,1)" font-size="11.025">0.20 uM</text><text transform="translate(582.25,343.24) scale(1.0569,1)" font-size="11.307">&gt;10 uM</text><text transform="translate(378.27,435.64) rotate(-90) scale(1.0208,1)" font-size="11.475" font-weight="bold">Relative Activity</text><text transform="translate(664,344.78) rotate(90) scale(0.9710,1)" font-size="11.796" font-weight="bold" fill="#7f7f7f" style="stroke:#7f7f7f;stroke-width:0.15px">Relative Viability</text><text transform="translate(474.53,494.55) scale(1.0648,1)" font-size="10.617" font-weight="bold">[Compound], uM</text><text transform="translate(390.65,466.76) scale(1.0300,1)" font-size="10.500" font-weight="bold">0.0</text><text transform="translate(634.82,466.76) scale(1.0300,1)" font-size="10.500" font-weight="bold">0.0</text><text transform="translate(390.51,418.42) scale(1.0300,1)" font-size="10.500" font-weight="bold">0.5</text><text transform="translate(634.82,418.42) scale(1.0300,1)" font-size="10.500" font-weight="bold">0.5</text><text transform="translate(390.65,370.09) scale(1.0300,1)" font-size="10.500" font-weight="bold">1.0</text><text transform="translate(634.57,370.09) scale(1.0300,1)" font-size="10.500" font-weight="bold">1.0</text><text transform="translate(390.51,321.7) scale(1.0300,1)" font-size="10.500" font-weight="bold">1.5</text><text transform="translate(634.57,321.7) scale(1.0300,1)" font-size="10.500" font-weight="bold">1.5</text><text transform="translate(399.81,478.06) scale(1.0300,1)" font-size="10.500" font-weight="bold">0.01</text><text transform="translate(457.37,478.06) scale(1.0300,1)" font-size="10.500" font-weight="bold">0.1</text><text transform="translate(516.31,478.06) scale(1.0300,1)" font-size="10.500" font-weight="bold">1</text><text transform="translate(567.93,478.06) scale(1.0300,1)" font-size="10.500" font-weight="bold">10</text><text transform="translate(619.46,478.06) scale(1.0300,1)" font-size="10.500" font-weight="bold">100</text><g transform="translate(349,257.2)"><g stroke="#000" stroke-width="1.5" fill="none"><path d="M61.6 60.5V205.5H279.8V60.5"/><path d="M57.3 205.5H61.6"/><path d="M279.8 205.5H283.7"/><path d="M57.3 157.16H61.6"/><path d="M279.8 157.16H283.7"/><path d="M57.3 108.83H61.6"/><path d="M279.8 108.83H283.7"/><path d="M57.3 60.5H61.6"/><path d="M279.8 60.5H283.7"/><path d="M61.6 205.5V209.6"/><path d="M78.02 205.5V208.1" stroke-width="1.4"/><path d="M87.63 205.5V208.1" stroke-width="1.4"/><path d="M94.44 205.5V208.1" stroke-width="1.4"/><path d="M99.73 205.5V208.1" stroke-width="1.4"/><path d="M104.05 205.5V208.1" stroke-width="1.4"/><path d="M107.7 205.5V208.1" stroke-width="1.4"/><path d="M110.86 205.5V208.1" stroke-width="1.4"/><path d="M113.65 205.5V208.1" stroke-width="1.4"/><path d="M116.15 205.5V209.6"/><path d="M132.57 205.5V208.1" stroke-width="1.4"/><path d="M142.18 205.5V208.1" stroke-width="1.4"/><path d="M148.99 205.5V208.1" stroke-width="1.4"/><path d="M154.28 205.5V208.1" stroke-width="1.4"/><path d="M158.6 205.5V208.1" stroke-width="1.4"/><path d="M162.25 205.5V208.1" stroke-width="1.4"/><path d="M165.41 205.5V208.1" stroke-width="1.4"/><path d="M168.2 205.5V208.1" stroke-width="1.4"/><path d="M170.7 205.5V209.6"/><path d="M187.12 205.5V208.1" stroke-width="1.4"/><path d="M196.73 205.5V208.1" stroke-width="1.4"/><path d="M203.54 205.5V208.1" stroke-width="1.4"/><path d="M208.83 205.5V208.1" stroke-width="1.4"/><path d="M213.15 205.5V208.1" stroke-width="1.4"/><path d="M216.8 205.5V208.1" stroke-width="1.4"/><path d="M219.96 205.5V208.1" stroke-width="1.4"/><path d="M222.75 205.5V208.1" stroke-width="1.4"/><path d="M225.25 205.5V209.6"/><path d="M241.67 205.5V208.1" stroke-width="1.4"/><path d="M251.28 205.5V208.1" stroke-width="1.4"/><path d="M258.09 205.5V208.1" stroke-width="1.4"/><path d="M263.38 205.5V208.1" stroke-width="1.4"/><path d="M267.7 205.5V208.1" stroke-width="1.4"/><path d="M271.35 205.5V208.1" stroke-width="1.4"/><path d="M274.51 205.5V208.1" stroke-width="1.4"/><path d="M277.3 205.5V208.1" stroke-width="1.4"/><path d="M279.8 205.5V209.6"/></g><path d="M110.3 132.1 L110.68 132.1 L111.07 132.11 L111.45 132.11 L111.83 132.11 L112.22 132.11 L112.6 132.12 L112.98 132.12 L113.37 132.13 L113.75 132.13 L114.13 132.14 L114.52 132.15 L114.9 132.16 L115.28 132.17 L115.67 132.19 L116.05 132.21 L116.43 132.23 L116.82 132.26 L117.2 132.29 L117.58 132.33 L117.96 132.38 L118.35 132.44 L118.73 132.51 L119.11 132.6 L119.5 132.71 L119.88 132.84 L120.26 133 L120.65 133.18 L121.03 133.41 L121.41 133.68 L121.8 134.01 L122.18 134.4 L122.56 134.87 L122.95 135.42 L123.33 136.08 L123.71 136.86 L124.1 137.76 L124.48 138.82 L124.86 140.04 L125.24 141.43 L125.63 143.01 L126.01 144.77 L126.39 146.72 L126.78 148.83 L127.16 151.1 L127.54 153.48 L127.93 155.94 L128.31 158.45 L128.69 160.94 L129.08 163.37 L129.46 165.71 L129.84 167.91 L130.23 169.96 L130.61 171.83 L130.99 173.51 L131.38 175.01 L131.76 176.32 L132.14 177.47 L132.53 178.46 L132.91 179.31 L133.29 180.03 L133.67 180.64 L134.06 181.16 L134.44 181.59 L134.82 181.95 L135.21 182.26 L135.59 182.51 L135.97 182.72 L136.36 182.89 L136.74 183.04 L137.12 183.16 L137.51 183.25 L137.89 183.34 L138.27 183.4 L138.66 183.46 L139.04 183.5 L139.42 183.54 L139.81 183.57 L140.19 183.6 L140.57 183.62 L140.95 183.64 L141.34 183.65 L141.72 183.66 L142.1 183.67 L142.49 183.68 L142.87 183.69 L143.25 183.69 L143.64 183.7 L144.02 183.7 L144.4 183.71 L144.79 183.71 L145.17 183.71 L145.55 183.71 L145.94 183.71 L146.32 183.71 L146.7 183.71 L147.09 183.72 L147.47 183.72 L147.85 183.72 L148.23 183.72 L148.62 183.72 L149 183.72 L149.38 183.72 L149.77 183.72 L150.15 183.72 L150.53 183.72 L150.92 183.72 L151.3 183.72 L151.68 183.72 L152.07 183.72 L152.45 183.72 L152.83 183.72 L153.22 183.72 L153.6 183.72 L153.98 183.72 L154.37 183.72 L154.75 183.72 L155.13 183.72 L155.51 183.72 L155.9 183.72 L156.28 183.72 L156.66 183.72 L157.05 183.72 L157.43 183.72 L157.81 183.72 L158.2 183.72 L158.58 183.72 L158.96 183.72 L159.35 183.72 L159.73 183.72 L160.11 183.72 L160.5 183.72 L160.88 183.72 L161.26 183.72 L161.65 183.72 L162.03 183.72 L162.41 183.72 L162.79 183.72 L163.18 183.72 L163.56 183.72 L163.94 183.72 L164.33 183.72 L164.71 183.72 L165.09 183.72 L165.48 183.72 L165.86 183.72 L166.24 183.72 L166.63 183.72 L167.01 183.72 L167.39 183.72 L167.78 183.72 L168.16 183.72 L168.54 183.72 L168.93 183.72 L169.31 183.72 L169.69 183.72 L170.07 183.72 L170.46 183.72 L170.84 183.72 L171.22 183.72 L171.61 183.72 L171.99 183.72 L172.37 183.72 L172.76 183.72 L173.14 183.72 L173.52 183.72 L173.91 183.72 L174.29 183.72 L174.67 183.72 L175.06 183.72 L175.44 183.72 L175.82 183.72 L176.21 183.72 L176.59 183.72 L176.97 183.72 L177.35 183.72 L177.74 183.72 L178.12 183.72 L178.5 183.72 L178.89 183.72 L179.27 183.72 L179.65 183.72 L180.04 183.72 L180.42 183.72 L180.8 183.72 L181.19 183.72 L181.57 183.72 L181.95 183.72 L182.34 183.72 L182.72 183.72 L183.1 183.72 L183.49 183.72 L183.87 183.72 L184.25 183.72 L184.63 183.72 L185.02 183.72 L185.4 183.72 L185.78 183.72 L186.17 183.72 L186.55 183.72 L186.93 183.72 L187.32 183.72 L187.7 183.72 L188.08 183.72 L188.47 183.72 L188.85 183.72 L189.23 183.72 L189.62 183.72 L190 183.72 L190.38 183.72 L190.77 183.72 L191.15 183.72 L191.53 183.72 L191.91 183.72 L192.3 183.72 L192.68 183.72 L193.06 183.72 L193.45 183.72 L193.83 183.72 L194.21 183.72 L194.6 183.72 L194.98 183.72 L195.36 183.72 L195.75 183.72 L196.13 183.72 L196.51 183.72 L196.9 183.72 L197.28 183.72 L197.66 183.72 L198.05 183.72 L198.43 183.72 L198.81 183.72 L199.2 183.72 L199.58 183.72 L199.96 183.72 L200.34 183.72 L200.73 183.72 L201.11 183.72 L201.49 183.72 L201.88 183.72 L202.26 183.72 L202.64 183.72 L203.03 183.72 L203.41 183.72 L203.79 183.72 L204.18 183.72 L204.56 183.72 L204.94 183.72 L205.33 183.72 L205.71 183.72 L206.09 183.72 L206.48 183.72 L206.86 183.72 L207.24 183.72 L207.62 183.72 L208.01 183.72 L208.39 183.72 L208.77 183.72 L209.16 183.72 L209.54 183.72 L209.92 183.72 L210.31 183.72 L210.69 183.72 L211.07 183.72 L211.46 183.72 L211.84 183.72 L212.22 183.72 L212.61 183.72 L212.99 183.72 L213.37 183.72 L213.76 183.72 L214.14 183.72 L214.52 183.72 L214.9 183.72 L215.29 183.72 L215.67 183.72 L216.05 183.72 L216.44 183.72 L216.82 183.72 L217.2 183.72 L217.59 183.72 L217.97 183.72 L218.35 183.72 L218.74 183.72 L219.12 183.72 L219.5 183.72 L219.89 183.72 L220.27 183.72 L220.65 183.72 L221.04 183.72 L221.42 183.72 L221.8 183.72 L222.18 183.72 L222.57 183.72 L222.95 183.72 L223.33 183.72 L223.72 183.72 L224.1 183.72 L224.48 183.72 L224.87 183.72 L225.25 183.72" fill="none" stroke="#000" stroke-width="1.6"/><path d="M110.3 106V158.68M106.8 106H113.8M106.8 158.68H113.8" stroke="#000" stroke-width="2.0" fill="none"/><circle cx="110.3" cy="132.48" r="2.75" fill="#000"/><path d="M126.72 113.25V183.43M123.22 113.25H130.22M123.22 183.43H130.22" stroke="#000" stroke-width="2.0" fill="none"/><circle cx="126.72" cy="148.34" r="2.75" fill="#000"/><path d="M143.14 173.47V194.84M139.64 173.47H146.64M139.64 194.84H146.64" stroke="#000" stroke-width="2.0" fill="none"/><circle cx="143.14" cy="183.91" r="2.75" fill="#000"/><path d="M159.57 174.25V195.8M156.07 174.25H163.07M156.07 195.8H163.07" stroke="#000" stroke-width="2.0" fill="none"/><circle cx="159.57" cy="184.98" r="2.75" fill="#000"/><path d="M175.99 179.95V197.35M172.49 179.95H179.49M172.49 197.35H179.49" stroke="#000" stroke-width="2.0" fill="none"/><circle cx="175.99" cy="189.04" r="2.75" fill="#000"/><path d="M192.41 167.48V196.96M188.91 167.48H195.91M188.91 196.96H195.91" stroke="#000" stroke-width="2.0" fill="none"/><circle cx="192.41" cy="182.46" r="2.75" fill="#000"/><path d="M208.83 165.93V191.16M205.33 165.93H212.33M205.33 191.16H212.33" stroke="#000" stroke-width="2.0" fill="none"/><circle cx="208.83" cy="178.69" r="2.75" fill="#000"/><path d="M225.25 173.47V194.45M221.75 173.47H228.75M221.75 194.45H228.75" stroke="#000" stroke-width="2.0" fill="none"/><circle cx="225.25" cy="183.91" r="2.75" fill="#000"/><path d="M110.3 105.48 L111.07 105.59 L111.83 105.7 L112.6 105.82 L113.37 105.95 L114.13 106.09 L114.9 106.24 L115.67 106.4 L116.43 106.57 L117.2 106.74 L117.96 106.93 L118.73 107.12 L119.5 107.33 L120.26 107.54 L121.03 107.77 L121.8 108.01 L122.56 108.25 L123.33 108.51 L124.1 108.78 L124.86 109.05 L125.63 109.34 L126.39 109.63 L127.16 109.93 L127.93 110.23 L128.69 110.54 L129.46 110.86 L130.23 111.18 L130.99 111.51 L131.76 111.84 L132.53 112.16 L133.29 112.49 L134.06 112.82 L134.82 113.14 L135.59 113.47 L136.36 113.78 L137.12 114.1 L137.89 114.4 L138.66 114.7 L139.42 115 L140.19 115.28 L140.95 115.56 L141.72 115.83 L142.49 116.08 L143.25 116.33 L144.02 116.57 L144.79 116.8 L145.55 117.01 L146.32 117.22 L147.09 117.42 L147.85 117.6 L148.62 117.78 L149.38 117.95 L150.15 118.11 L150.92 118.26 L151.68 118.4 L152.45 118.53 L153.22 118.65 L153.98 118.77 L154.75 118.88 L155.51 118.98 L156.28 119.07 L157.05 119.16 L157.81 119.25 L158.58 119.32 L159.35 119.39 L160.11 119.46 L160.88 119.52 L161.65 119.58 L162.41 119.64 L163.18 119.69 L163.94 119.73 L164.71 119.77 L165.48 119.81 L166.24 119.85 L167.01 119.89 L167.78 119.92 L168.54 119.95 L169.31 119.97 L170.07 120 L170.84 120.02 L171.61 120.04 L172.37 120.06 L173.14 120.08 L173.91 120.1 L174.67 120.11 L175.44 120.13 L176.21 120.14 L176.97 120.16 L177.74 120.17 L178.5 120.18 L179.27 120.19 L180.04 120.2 L180.8 120.2 L181.57 120.21 L182.34 120.22 L183.1 120.23 L183.87 120.23 L184.63 120.24 L185.4 120.24 L186.17 120.25 L186.93 120.25 L187.7 120.26 L188.47 120.26 L189.23 120.26 L190 120.27 L190.77 120.27 L191.53 120.27 L192.3 120.27 L193.06 120.28 L193.83 120.28 L194.6 120.28 L195.36 120.28 L196.13 120.28 L196.9 120.29 L197.66 120.29 L198.43 120.29 L199.2 120.29 L199.96 120.29 L200.73 120.29 L201.49 120.29 L202.26 120.29 L203.03 120.29 L203.79 120.29 L204.56 120.3 L205.33 120.3 L206.09 120.3 L206.86 120.3 L207.62 120.3 L208.39 120.3 L209.16 120.3 L209.92 120.3 L210.69 120.3 L211.46 120.3 L212.22 120.3 L212.99 120.3 L213.76 120.3 L214.52 120.3 L215.29 120.3 L216.05 120.3 L216.82 120.3 L217.59 120.3 L218.35 120.3 L219.12 120.3 L219.89 120.3 L220.65 120.3 L221.42 120.3 L222.18 120.3 L222.95 120.3 L223.72 120.3 L224.48 120.3 L225.25 120.3" fill="none" stroke="#7f7f7f" stroke-width="1.6"/><path d="M110.3 98.07V113.83M106.8 98.07H113.8M106.8 113.83H113.8" stroke="#7f7f7f" stroke-width="1.8" fill="none"/><rect x="107.7" y="103.3" width="5.2" height="5.2" fill="#7f7f7f"/><path d="M126.72 103.29V115.86M123.22 103.29H130.22M123.22 115.86H130.22" stroke="#7f7f7f" stroke-width="1.8" fill="none"/><rect x="124.12" y="107.17" width="5.2" height="5.2" fill="#7f7f7f"/><path d="M143.14 108.41V125.14M139.64 108.41H146.64M139.64 125.14H146.64" stroke="#7f7f7f" stroke-width="1.8" fill="none"/><rect x="140.54" y="113.74" width="5.2" height="5.2" fill="#7f7f7f"/><path d="M159.57 107.45V131.71M156.07 107.45H163.07M156.07 131.71H163.07" stroke="#7f7f7f" stroke-width="1.8" fill="none"/><rect x="156.97" y="116.35" width="5.2" height="5.2" fill="#7f7f7f"/><path d="M175.99 106.38V132.19M172.49 106.38H179.49M172.49 132.19H179.49" stroke="#7f7f7f" stroke-width="1.8" fill="none"/><rect x="173.39" y="116.16" width="5.2" height="5.2" fill="#7f7f7f"/><path d="M192.41 105.51V132.19M188.91 105.51H195.91M188.91 132.19H195.91" stroke="#7f7f7f" stroke-width="1.8" fill="none"/><rect x="189.81" y="116.16" width="5.2" height="5.2" fill="#7f7f7f"/><path d="M208.83 106.38V134.9M205.33 106.38H212.33M205.33 134.9H212.33" stroke="#7f7f7f" stroke-width="1.8" fill="none"/><rect x="206.23" y="117.8" width="5.2" height="5.2" fill="#7f7f7f"/><path d="M225.25 117.31V126.01M221.75 117.31H228.75M221.75 126.01H228.75" stroke="#7f7f7f" stroke-width="1.8" fill="none"/><rect x="222.65" y="118.86" width="5.2" height="5.2" fill="#7f7f7f"/></g><g stroke="#000" stroke-width="2.2" fill="none"><path d="M81.2 603.4V775.5H302.2"/><path d="M75.1 775.5H81.2"/><path d="M75.1 751.06H81.2"/><path d="M75.1 726.61H81.2"/><path d="M75.1 702.17H81.2"/><path d="M75.1 677.73H81.2"/><path d="M75.1 653.29H81.2"/><path d="M75.1 628.84H81.2"/><path d="M75.1 604.4H81.2"/></g><text transform="translate(49.73,779.74) scale(1.0348,1)" font-size="12.034" font-weight="bold">0.00</text><text transform="translate(49.57,755.29) scale(1.0348,1)" font-size="12.034" font-weight="bold">0.25</text><text transform="translate(49.73,730.85) scale(1.0348,1)" font-size="12.034" font-weight="bold">0.50</text><text transform="translate(49.57,706.41) scale(1.0348,1)" font-size="12.034" font-weight="bold">0.75</text><text transform="translate(49.73,681.97) scale(1.0348,1)" font-size="12.034" font-weight="bold">1.00</text><text transform="translate(49.57,657.52) scale(1.0348,1)" font-size="12.034" font-weight="bold">1.25</text><text transform="translate(49.73,633.08) scale(1.0348,1)" font-size="12.034" font-weight="bold">1.50</text><text transform="translate(49.57,608.58) scale(1.0348,1)" font-size="12.034" font-weight="bold">1.75</text><rect x="87.2" y="754.28" width="12.6" height="21.22" fill="#989898"/><path d="M93.5 754.28V744.21M90.2 744.21H96.8" stroke="#000" stroke-width="2" fill="none"/><path d="M93.5 775.5V781.9" stroke="#000" stroke-width="2.2"/><text transform="translate(95.5,791.3) rotate(-45) scale(0.92,1)" text-anchor="end" font-weight="bold" font-size="12.0">10</text><rect x="102.25" y="736.68" width="12.6" height="38.82" fill="#989898"/><path d="M108.55 736.68V718.3M105.25 718.3H111.85" stroke="#000" stroke-width="2" fill="none"/><path d="M108.55 775.5V781.9" stroke="#000" stroke-width="2.2"/><text transform="translate(110.55,791.3) rotate(-45) scale(0.92,1)" text-anchor="end" font-weight="bold" font-size="12.0">1</text><rect x="117.3" y="718.3" width="12.6" height="57.2" fill="#989898"/><path d="M123.6 718.3V700.22M120.3 700.22H126.9" stroke="#000" stroke-width="2" fill="none"/><path d="M123.6 775.5V781.9" stroke="#000" stroke-width="2.2"/><text transform="translate(125.6,791.3) rotate(-45) scale(0.92,1)" text-anchor="end" font-weight="bold" font-size="12.0">0.1</text><rect x="142.5" y="745.58" width="12.6" height="29.92" fill="#747474"/><path d="M148.8 745.58V735.41M145.5 735.41H152.1" stroke="#000" stroke-width="2" fill="none"/><path d="M148.8 775.5V781.9" stroke="#000" stroke-width="2.2"/><text transform="translate(150.8,791.3) rotate(-45) scale(0.92,1)" text-anchor="end" font-weight="bold" font-size="12.0">10</text><rect x="157.55" y="740.89" width="12.6" height="34.61" fill="#747474"/><path d="M163.85 740.89V735.02M160.55 735.02H167.15" stroke="#000" stroke-width="2" fill="none"/><path d="M163.85 775.5V781.9" stroke="#000" stroke-width="2.2"/><text transform="translate(165.85,791.3) rotate(-45) scale(0.92,1)" text-anchor="end" font-weight="bold" font-size="12.0">1</text><rect x="172.6" y="719.09" width="12.6" height="56.41" fill="#747474"/><path d="M178.9 719.09V707.65M175.6 707.65H182.2" stroke="#000" stroke-width="2" fill="none"/><path d="M178.9 775.5V781.9" stroke="#000" stroke-width="2.2"/><text transform="translate(180.9,791.3) rotate(-45) scale(0.92,1)" text-anchor="end" font-weight="bold" font-size="12.0">0.1</text><rect x="197.8" y="722.51" width="12.6" height="52.99" fill="#cfcfcf"/><path d="M204.1 722.51V696.99M200.8 696.99H207.4" stroke="#000" stroke-width="2" fill="none"/><path d="M204.1 775.5V781.9" stroke="#000" stroke-width="2.2"/><text transform="translate(206.1,791.3) rotate(-45) scale(0.92,1)" text-anchor="end" font-weight="bold" font-size="12.0">10</text><rect x="212.85" y="724.76" width="12.6" height="50.74" fill="#cfcfcf"/><path d="M219.15 724.76V710.48M215.85 710.48H222.45" stroke="#000" stroke-width="2" fill="none"/><path d="M219.15 775.5V781.9" stroke="#000" stroke-width="2.2"/><text transform="translate(221.15,791.3) rotate(-45) scale(0.92,1)" text-anchor="end" font-weight="bold" font-size="12.0">1</text><rect x="227.9" y="695.82" width="12.6" height="79.68" fill="#cfcfcf"/><path d="M234.2 695.82V662.77M230.9 662.77H237.5" stroke="#000" stroke-width="2" fill="none"/><path d="M234.2 775.5V781.9" stroke="#000" stroke-width="2.2"/><text transform="translate(236.2,791.3) rotate(-45) scale(0.92,1)" text-anchor="end" font-weight="bold" font-size="12.0">0.1</text><rect x="253.1" y="710.97" width="12.6" height="64.53" fill="#545454"/><path d="M259.4 710.97V670.79M256.1 670.79H262.7" stroke="#000" stroke-width="2" fill="none"/><path d="M259.4 775.5V781.9" stroke="#000" stroke-width="2.2"/><text transform="translate(261.4,791.3) rotate(-45) scale(0.92,1)" text-anchor="end" font-weight="bold" font-size="12.0">10</text><rect x="268.15" y="704.62" width="12.6" height="70.88" fill="#545454"/><path d="M274.45 704.62V668.05M271.15 668.05H277.75" stroke="#000" stroke-width="2" fill="none"/><path d="M274.45 775.5V781.9" stroke="#000" stroke-width="2.2"/><text transform="translate(276.45,791.3) rotate(-45) scale(0.92,1)" text-anchor="end" font-weight="bold" font-size="12.0">1</text><rect x="283.2" y="675.38" width="12.6" height="100.12" fill="#545454"/><path d="M289.5 675.38V619.46M286.2 619.46H292.8" stroke="#000" stroke-width="2" fill="none"/><path d="M289.5 775.5V781.9" stroke="#000" stroke-width="2.2"/><text transform="translate(291.5,791.3) rotate(-45) scale(0.92,1)" text-anchor="end" font-weight="bold" font-size="12.0">0.1</text><text transform="translate(130.71,822.97) scale(1.0095,1)" font-size="13.405" font-weight="bold">concentration [uM]</text><text transform="translate(39.56,743.48) rotate(-90) scale(0.9909,1)" font-size="13.941" font-weight="bold">Relative Activity</text><g stroke="#000" stroke-width="2.2" fill="none"><path d="M396.5 603.6V775.5H617.5"/><path d="M390.4 775.5H396.5"/><path d="M390.4 741.32H396.5"/><path d="M390.4 707.14H396.5"/><path d="M390.4 672.96H396.5"/><path d="M390.4 638.78H396.5"/><path d="M390.4 604.6H396.5"/></g><text transform="translate(365.43,779.74) scale(1.0348,1)" font-size="12.034" font-weight="bold">0.00</text><text transform="translate(365.27,745.56) scale(1.0348,1)" font-size="12.034" font-weight="bold">0.25</text><text transform="translate(365.43,711.38) scale(1.0348,1)" font-size="12.034" font-weight="bold">0.50</text><text transform="translate(365.27,677.2) scale(1.0348,1)" font-size="12.034" font-weight="bold">0.75</text><text transform="translate(365.43,643.02) scale(1.0348,1)" font-size="12.034" font-weight="bold">1.00</text><text transform="translate(365.27,608.84) scale(1.0348,1)" font-size="12.034" font-weight="bold">1.25</text><rect x="402.7" y="641.38" width="12.6" height="134.12" fill="#989898"/><path d="M409 641.38V632.63M405.7 632.63H412.3" stroke="#000" stroke-width="2" fill="none"/><path d="M409 775.5V781.9" stroke="#000" stroke-width="2.2"/><text transform="translate(411,791.3) rotate(-45) scale(0.92,1)" text-anchor="end" font-weight="bold" font-size="12.0">10</text><rect x="417.75" y="634.54" width="12.6" height="140.96" fill="#989898"/><path d="M424.05 634.54V628.53M420.75 628.53H427.35" stroke="#000" stroke-width="2" fill="none"/><path d="M424.05 775.5V781.9" stroke="#000" stroke-width="2.2"/><text transform="translate(426.05,791.3) rotate(-45) scale(0.92,1)" text-anchor="end" font-weight="bold" font-size="12.0">1</text><rect x="432.8" y="632.9" width="12.6" height="142.6" fill="#989898"/><path d="M439.1 632.9V627.84M435.8 627.84H442.4" stroke="#000" stroke-width="2" fill="none"/><path d="M439.1 775.5V781.9" stroke="#000" stroke-width="2.2"/><text transform="translate(441.1,791.3) rotate(-45) scale(0.92,1)" text-anchor="end" font-weight="bold" font-size="12.0">0.1</text><rect x="458" y="630.17" width="12.6" height="145.33" fill="#747474"/><path d="M464.3 630.17V621.01M461 621.01H467.6" stroke="#000" stroke-width="2" fill="none"/><path d="M464.3 775.5V781.9" stroke="#000" stroke-width="2.2"/><text transform="translate(466.3,791.3) rotate(-45) scale(0.92,1)" text-anchor="end" font-weight="bold" font-size="12.0">10</text><rect x="473.05" y="627.98" width="12.6" height="147.52" fill="#747474"/><path d="M479.35 627.98V621.83M476.05 621.83H482.65" stroke="#000" stroke-width="2" fill="none"/><path d="M479.35 775.5V781.9" stroke="#000" stroke-width="2.2"/><text transform="translate(481.35,791.3) rotate(-45) scale(0.92,1)" text-anchor="end" font-weight="bold" font-size="12.0">1</text><rect x="488.1" y="629.35" width="12.6" height="146.15" fill="#747474"/><path d="M494.4 629.35V624.56M491.1 624.56H497.7" stroke="#000" stroke-width="2" fill="none"/><path d="M494.4 775.5V781.9" stroke="#000" stroke-width="2.2"/><text transform="translate(496.4,791.3) rotate(-45) scale(0.92,1)" text-anchor="end" font-weight="bold" font-size="12.0">0.1</text><rect x="513.3" y="627.16" width="12.6" height="148.34" fill="#cfcfcf"/><path d="M519.6 627.16V618.96M516.3 618.96H522.9" stroke="#000" stroke-width="2" fill="none"/><path d="M519.6 775.5V781.9" stroke="#000" stroke-width="2.2"/><text transform="translate(521.6,791.3) rotate(-45) scale(0.92,1)" text-anchor="end" font-weight="bold" font-size="12.0">10</text><rect x="528.35" y="627.16" width="12.6" height="148.34" fill="#cfcfcf"/><path d="M534.65 627.16V618.96M531.35 618.96H537.95" stroke="#000" stroke-width="2" fill="none"/><path d="M534.65 775.5V781.9" stroke="#000" stroke-width="2.2"/><text transform="translate(536.65,791.3) rotate(-45) scale(0.92,1)" text-anchor="end" font-weight="bold" font-size="12.0">1</text><rect x="543.4" y="631.67" width="12.6" height="143.83" fill="#cfcfcf"/><path d="M549.7 631.67V625.65M546.4 625.65H553" stroke="#000" stroke-width="2" fill="none"/><path d="M549.7 775.5V781.9" stroke="#000" stroke-width="2.2"/><text transform="translate(551.7,791.3) rotate(-45) scale(0.92,1)" text-anchor="end" font-weight="bold" font-size="12.0">0.1</text><rect x="568.6" y="629.35" width="12.6" height="146.15" fill="#545454"/><path d="M574.9 629.35V619.23M571.6 619.23H578.2" stroke="#000" stroke-width="2" fill="none"/><path d="M574.9 775.5V781.9" stroke="#000" stroke-width="2.2"/><text transform="translate(576.9,791.3) rotate(-45) scale(0.92,1)" text-anchor="end" font-weight="bold" font-size="12.0">10</text><rect x="583.65" y="627.71" width="12.6" height="147.79" fill="#545454"/><path d="M589.95 627.71V618.14M586.65 618.14H593.25" stroke="#000" stroke-width="2" fill="none"/><path d="M589.95 775.5V781.9" stroke="#000" stroke-width="2.2"/><text transform="translate(591.95,791.3) rotate(-45) scale(0.92,1)" text-anchor="end" font-weight="bold" font-size="12.0">1</text><rect x="598.7" y="630.17" width="12.6" height="145.33" fill="#545454"/><path d="M605 630.17V625.93M601.7 625.93H608.3" stroke="#000" stroke-width="2" fill="none"/><path d="M605 775.5V781.9" stroke="#000" stroke-width="2.2"/><text transform="translate(607,791.3) rotate(-45) scale(0.92,1)" text-anchor="end" font-weight="bold" font-size="12.0">0.1</text><text transform="translate(446.61,822.97) scale(0.9994,1)" font-size="13.405" font-weight="bold">concentration [uM]</text><text transform="translate(355,744.57) rotate(-90) scale(0.9911,1)" font-size="13.727" font-weight="bold">Relative Viability</text><rect x="95.9" y="603.4" width="20.5" height="12.6" fill="#989898"/><text transform="translate(125.49,614.15) scale(1.1176,1)" font-size="12.676" font-weight="bold">BI2536</text><rect x="95.9" y="623.85" width="20.5" height="12.6" fill="#747474"/><text transform="translate(125.22,634.6) scale(1.0845,1)" font-size="12.676" font-weight="bold">Rigosertib</text><rect x="95.9" y="644.3" width="20.5" height="12.6" fill="#cfcfcf"/><text transform="translate(125.59,655.05) scale(1.1047,1)" font-size="12.676" font-weight="bold">GW843682X</text><rect x="95.9" y="664.75" width="20.5" height="12.6" fill="#545454"/><text transform="translate(125.2,675.5) scale(1.1104,1)" font-size="12.676" font-weight="bold">NMS-1286937</text><text transform="translate(2.45,16.65) scale(0.9006,1)" font-size="20.364">A</text><text transform="translate(4.96,559.35) scale(0.8790,1)" font-size="20.509">B</text></svg>
</body></html>
